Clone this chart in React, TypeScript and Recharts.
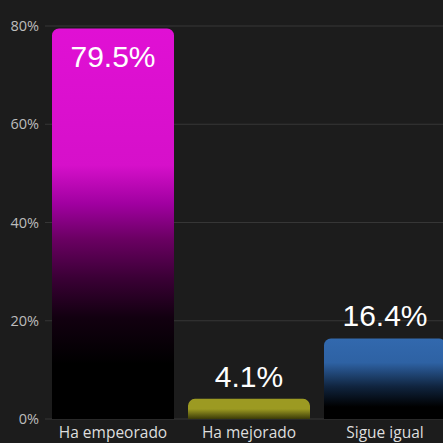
import React from "react";
import { BarChart, Bar, XAxis, YAxis, CartesianGrid, LabelList, Cell } from "recharts";

const categories = ["Ha empeorado", "Ha mejorado", "Sigue igual"];
const values = [79.5, 4.1, 16.4];
const yTicks = [0, 20, 40, 60, 80];
const colors = ["#e010d4", "#9c9a22", "#3269ae"];

const data = categories.map((name, i) => ({ name, value: values[i] }));

const renderLabel = (props: any) => {
  const { x, y, width, value, index } = props;
  const cx = x + width / 2;
  const inside = index === 0;
  const ty = inside ? y + 39 : y - 12;
  return (
    <text
      x={cx}
      y={ty}
      textAnchor="middle"
      fill="#ffffff"
      fontSize={30}
      fontFamily="'Liberation Sans', Arial, sans-serif"
    >
      {`${value}%`}
    </text>
  );
};

export default function App() {
  return (
    <div
      style={{
        position: "absolute",
        left: 0,
        top: 0,
        width: 443,
        height: 443,
        overflow: "hidden",
        background: "#1c1c1c",
      }}
    >
      <BarChart
        width={461}
        height={443}
        data={data}
        margin={{ top: 26, right: 8, bottom: 0, left: 0 }}
        barCategoryGap={7}
      >
        <defs>
          <linearGradient id="g0" x1="0" y1="0" x2="0" y2="1">
            <stop offset="0" stopColor={colors[0]} />
            <stop offset="0.35" stopColor="#d610ca" />
            <stop offset="0.45" stopColor="#a000a0" />
            <stop offset="0.54" stopColor="#6a0062" />
            <stop offset="0.64" stopColor="#3a0035" />
            <stop offset="0.74" stopColor="#120010" />
            <stop offset="0.86" stopColor="#000000" />
            <stop offset="1" stopColor="#000000" />
          </linearGradient>
          <linearGradient id="g1" x1="0" y1="0" x2="0" y2="1">
            <stop offset="0" stopColor={colors[1]} />
            <stop offset="0.5" stopColor={colors[1]} />
            <stop offset="1" stopColor="#3a3a08" />
          </linearGradient>
          <linearGradient id="g2" x1="0" y1="0" x2="0" y2="1">
            <stop offset="0" stopColor={colors[2]} />
            <stop offset="0.3" stopColor="#2e62a4" />
            <stop offset="0.6" stopColor="#10243e" />
            <stop offset="0.85" stopColor="#000000" />
            <stop offset="1" stopColor="#000000" />
          </linearGradient>
        </defs>
        <CartesianGrid vertical={false} stroke="#363636" strokeWidth={1} />
        <XAxis
          dataKey="name"
          axisLine={false}
          tickLine={false}
          height={24}
          tickMargin={2}
          interval={0}
          tick={{ fill: "#dedede", fontSize: 15.5, fontFamily: "'Open Sans', sans-serif" }}
        />
        <YAxis
          domain={[0, 80]}
          ticks={yTicks}
          width={45}
          axisLine={false}
          tickLine={false}
          tickMargin={0}
          tickFormatter={(v: number) => `${v}%`}
          tick={{ fill: "#bdbdbd", fontSize: 14.5, fontFamily: "'Open Sans', sans-serif" }}
        />
        <Bar dataKey="value" radius={[7, 7, 0, 0]} isAnimationActive={false}>
          {data.map((d, i) => (
            <Cell key={d.name} fill={`url(#g${i})`} />
          ))}
          <LabelList dataKey="value" content={renderLabel} />
        </Bar>
      </BarChart>
    </div>
  );
}
